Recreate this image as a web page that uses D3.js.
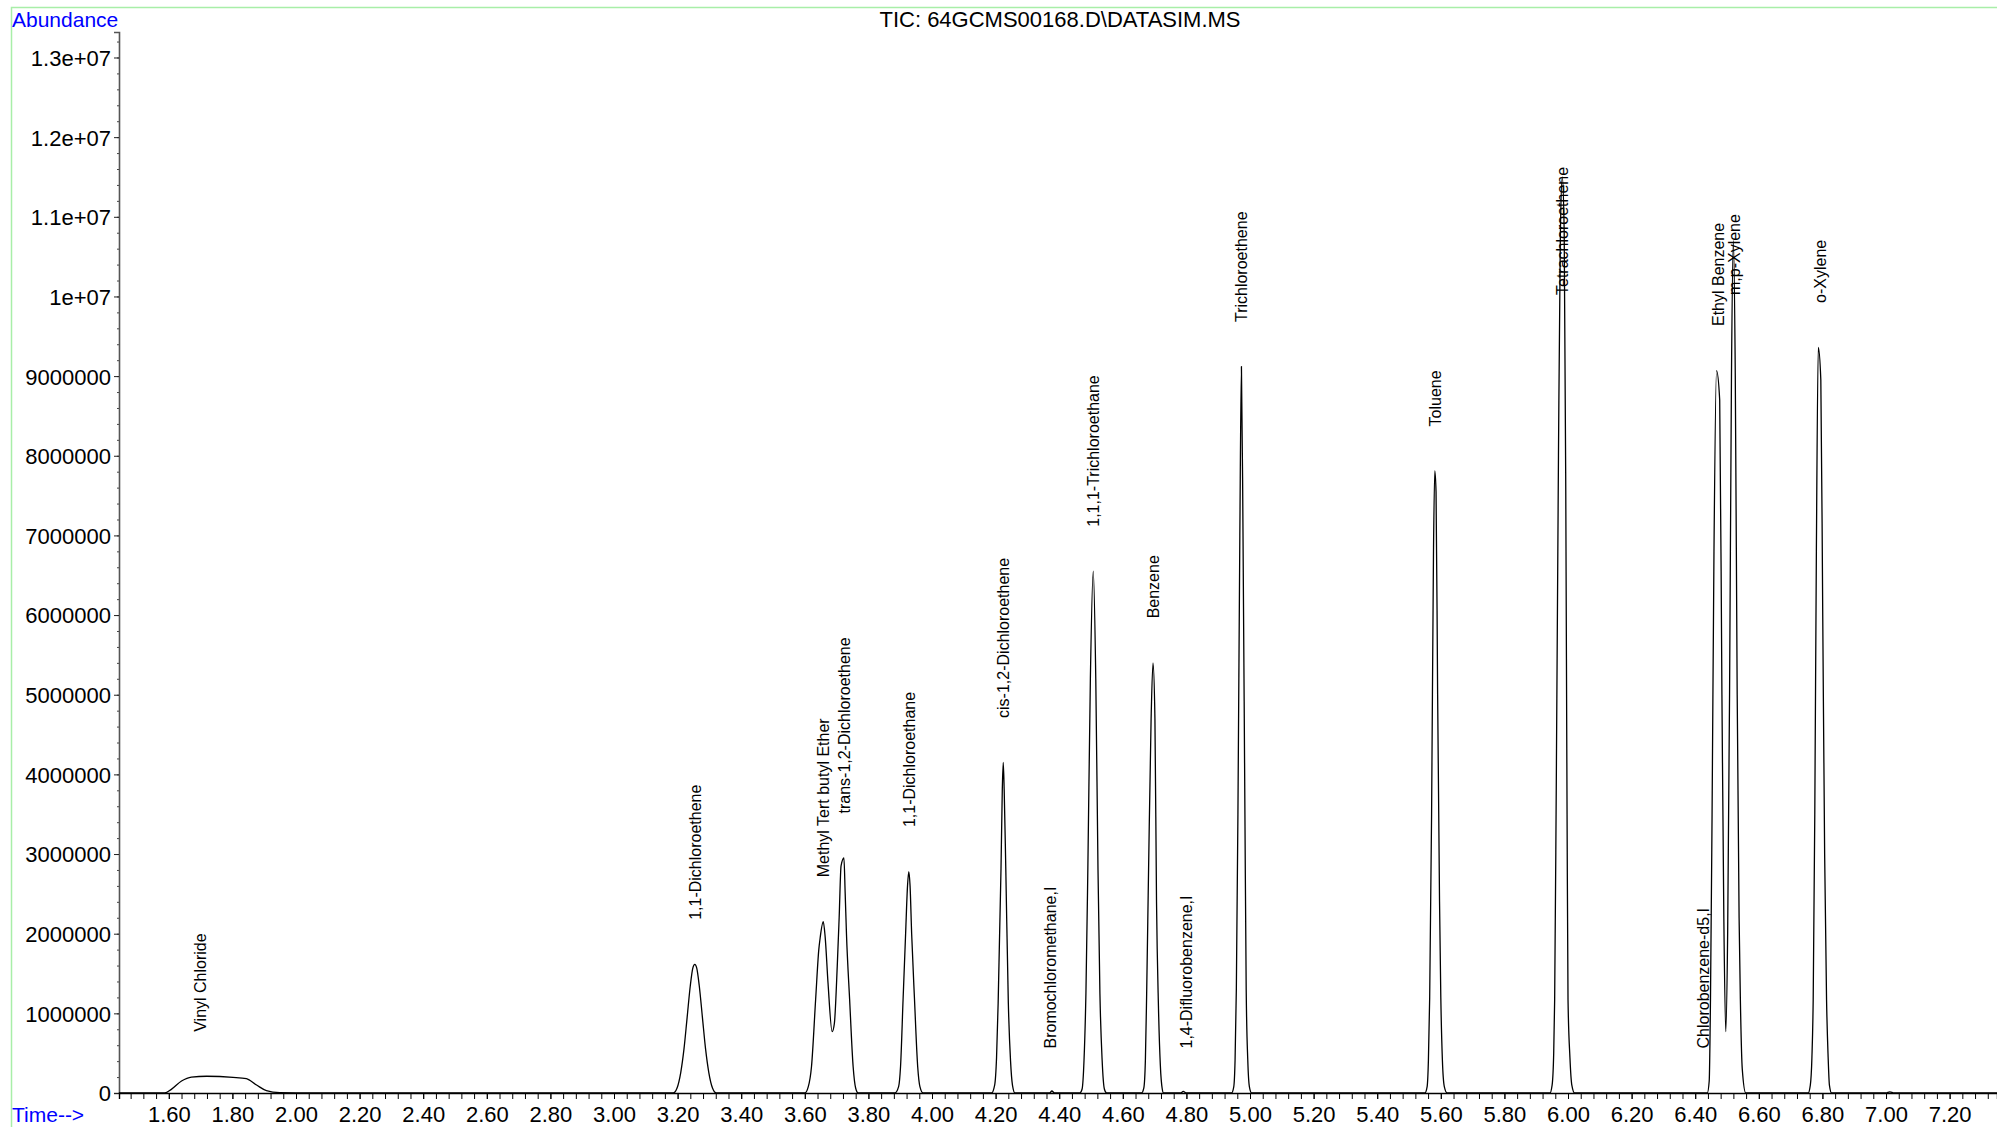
<!DOCTYPE html>
<html lang="en">
<head>
  <meta charset="UTF-8">
  <title>TIC: 64GCMS00168.D\DATASIM.MS</title>
  <script src="https://d3js.org/d3.v7.min.js"></script>
  <style>
    body { margin: 0; background: #fff; }
    text { font-family: Arial, "Liberation Sans", sans-serif; }
  </style>
</head>
<body>
<script>
  // Trace: [retention time (min), abundance (millions)]
  const tracePoints = [
    [1.443, 0], [1.587, 0], [1.608, 0.046], [1.640, 0.15], [1.671, 0.20], [1.719, 0.21],
    [1.802, 0.197], [1.844, 0.18], [1.876, 0.10], [1.907, 0.03], [1.949, 0.005], [2.05, 0],
    // 1,1-Dichloroethene
    [3.186, 0], [3.198, 0.06], [3.210, 0.26], [3.220, 0.55], [3.230, 0.95], [3.240, 1.35],
    [3.248, 1.57], [3.254, 1.615], [3.260, 1.57], [3.268, 1.35], [3.278, 0.95], [3.288, 0.55],
    [3.298, 0.26], [3.310, 0.06], [3.322, 0],
    // MTBE + trans-1,2-Dichloroethene
    [3.600, 0], [3.611, 0.08], [3.621, 0.33], [3.634, 1.17], [3.644, 1.80], [3.648, 1.94],
    [3.658, 2.15], [3.664, 1.96], [3.673, 1.38], [3.686, 0.77], [3.693, 0.875], [3.702, 1.59],
    [3.708, 2.2], [3.714, 2.85], [3.723, 2.95], [3.727, 2.5], [3.731, 2.0], [3.741, 1.17],
    [3.752, 0.33], [3.760, 0.06], [3.768, 0],
    // 1,1-Dichloroethane
    [3.883, 0], [3.895, 0.08], [3.901, 0.33], [3.909, 1.17], [3.917, 2.0], [3.923, 2.6],
    [3.927, 2.78], [3.931, 2.6], [3.936, 2.0], [3.945, 1.17], [3.955, 0.33], [3.962, 0.08], [3.972, 0],
    // cis-1,2-Dichloroethene
    [4.187, 0], [4.197, 0.1], [4.203, 0.45], [4.208, 1.13], [4.217, 2.82], [4.221, 3.8],
    [4.224, 4.15], [4.227, 3.8], [4.232, 2.82], [4.240, 1.13], [4.247, 0.4], [4.253, 0.1], [4.261, 0],
    [4.370, 0], [4.377, 0.025], [4.385, 0],
    // 1,1,1-Trichloroethane
    [4.465, 0], [4.472, 0.05], [4.478, 0.41], [4.484, 1.25], [4.490, 2.8], [4.498, 5.2],
    [4.507, 6.55], [4.515, 5.2], [4.522, 2.8], [4.528, 1.25], [4.535, 0.41], [4.542, 0.05], [4.549, 0],
    // Benzene
    [4.659, 0], [4.666, 0.06], [4.671, 0.41], [4.675, 1.25], [4.681, 2.8], [4.689, 4.7],
    [4.695, 5.40], [4.701, 4.7], [4.706, 2.4], [4.712, 1.1], [4.718, 0.35], [4.724, 0.05], [4.728, 0],
    [4.782, 0], [4.790, 0.02], [4.800, 0],
    // Trichloroethene
    [4.942, 0], [4.949, 0.08], [4.953, 0.41], [4.957, 1.3], [4.962, 3.5], [4.968, 7.0],
    [4.973, 9.12], [4.978, 7.0], [4.984, 3.5], [4.988, 1.3], [4.993, 0.41], [4.998, 0.08], [5.005, 0],
    // Toluene
    [5.550, 0], [5.557, 0.08], [5.561, 0.41], [5.565, 1.2], [5.571, 3.5], [5.577, 6.8],
    [5.581, 7.81], [5.585, 7.55], [5.590, 5.0], [5.596, 2.4], [5.600, 1.2], [5.605, 0.41],
    [5.611, 0.08], [5.620, 0],
    // Tetrachloroethene
    [5.943, 0], [5.950, 0.1], [5.955, 0.5], [5.958, 1.17], [5.963, 3.8], [5.970, 8.0],
    [5.976, 10.8], [5.982, 11.5], [5.988, 10.8], [5.993, 7.5], [5.997, 3.5], [6.000, 1.17],
    [6.006, 0.45], [6.012, 0.1], [6.021, 0],
    // Ethyl Benzene + m,p-Xylene
    [6.438, 0], [6.444, 0.15], [6.448, 1.17], [6.453, 3.5], [6.459, 6.8], [6.467, 9.07],
    [6.477, 8.70], [6.484, 5.0], [6.490, 2.2], [6.496, 0.77], [6.502, 2.0], [6.508, 5.0],
    [6.514, 9.0], [6.520, 10.7], [6.526, 9.0], [6.532, 5.0], [6.538, 2.2], [6.542, 1.17],
    [6.548, 0.3], [6.559, 0],
    // o-Xylene
    [6.755, 0], [6.762, 0.1], [6.767, 0.45], [6.771, 1.17], [6.776, 3.5], [6.781, 6.8],
    [6.787, 9.36], [6.795, 8.95], [6.801, 6.0], [6.807, 3.0], [6.813, 1.17], [6.818, 0.45],
    [6.822, 0.1], [6.829, 0],
    [7.000, 0], [7.012, 0.015], [7.025, 0], [7.349, 0]
  ];

  // Peak labels: name, retention time, apex height (millions)
  const peakNames = [
    "Vinyl Chloride", "1,1-Dichloroethene", "Methyl Tert butyl Ether", "trans-1,2-Dichloroethene",
    "1,1-Dichloroethane", "cis-1,2-Dichloroethene", "Bromochloromethane,I", "1,1,1-Trichloroethane",
    "Benzene", "1,4-Difluorobenzene,I", "Trichloroethene", "Toluene", "Tetrachloroethene",
    "Chlorobenzene-d5,I", "Ethyl Benzene", "m,p-Xylene", "o-Xylene"
  ];
  const peakTimes = [1.70, 3.254, 3.658, 3.724, 3.927, 4.224, 4.372, 4.507, 4.695, 4.801,
    4.973, 5.581, 5.983, 6.425, 6.471, 6.524, 6.793];
  const peakHeights = [0.21, 1.615, 2.15, 2.95, 2.78, 4.15, 0, 6.55, 5.40, 0,
    9.12, 7.81, 11.5, 0, 9.07, 10.7, 9.36];

  // Axis ticks
  const yTickValues = [0, 1, 2, 3, 4, 5, 6, 7, 8, 9, 10, 11, 12, 13];
  const yTickLabels = ["0", "1000000", "2000000", "3000000", "4000000", "5000000", "6000000",
    "7000000", "8000000", "9000000", "1e+07", "1.1e+07", "1.2e+07", "1.3e+07"];
  const xTickValues = [1.6, 1.8, 2.0, 2.2, 2.4, 2.6, 2.8, 3.0, 3.2, 3.4, 3.6, 3.8, 4.0, 4.2,
    4.4, 4.6, 4.8, 5.0, 5.2, 5.4, 5.6, 5.8, 6.0, 6.2, 6.4, 6.6, 6.8, 7.0, 7.2];

  const width = 1997;
  const height = 1127;

  const svg = d3.select("body")
    .append("svg")
    .attr("width", width)
    .attr("height", height);

  // frame
  svg.append("path")
    .attr("d", "M11.5," + height + " L11.5,7.5 L" + width + ",7.5")
    .attr("fill", "none")
    .attr("stroke", "#a8eea8")
    .attr("stroke-width", 1.5);

  const xScale = d3.scaleLinear()
    .domain([1.4434, 7.349])
    .range([119, 1997]);

  const yScale = d3.scaleLinear()
    .domain([0, 13.32])
    .range([1093, 32]);

  // y axis
  const yMinor = d3.range(0, 13.21, 0.2);
  svg.append("g")
    .attr("transform", "translate(119,0)")
    .call(d3.axisLeft(yScale).tickValues(yMinor).tickSize(2).tickFormat(""))
    .call(g => g.select(".domain").remove())
    .call(g => g.selectAll("line").attr("stroke", "#444"));

  const yAxis = svg.append("g")
    .attr("transform", "translate(119,0)")
    .call(d3.axisLeft(yScale).tickValues(yTickValues).tickSize(5).tickPadding(3)
      .tickFormat((d, i) => yTickLabels[i]));
  yAxis.select(".domain").attr("stroke", "#555").attr("stroke-width", 1.6);
  yAxis.selectAll("line").attr("stroke", "#222");
  yAxis.selectAll("text")
    .attr("font-size", 22)
    .attr("fill", "#000")
    .attr("dy", "0.36em");

  // x axis
  const xMinor = d3.range(1.48, 7.33, 0.04);
  svg.append("g")
    .attr("transform", "translate(0,1093)")
    .call(d3.axisBottom(xScale).tickValues(xMinor).tickSize(6).tickFormat(""))
    .call(g => g.select(".domain").attr("stroke", "#000").attr("stroke-width", 1.4))
    .call(g => g.selectAll("line").attr("stroke", "#000"));

  const xAxis = svg.append("g")
    .attr("transform", "translate(0,1093)")
    .call(d3.axisBottom(xScale).tickValues(xTickValues).tickSize(6).tickPadding(4)
      .tickFormat(d => d.toFixed(2)));
  xAxis.select(".domain").remove();
  xAxis.selectAll("line").attr("stroke", "#000");
  xAxis.selectAll("text")
    .attr("font-size", 22)
    .attr("fill", "#000")
    .attr("y", 0)
    .attr("dy", 0)
    .attr("transform", "translate(0,29)");

  // trace
  const line = d3.line()
    .x(d => xScale(d[0]))
    .y(d => yScale(d[1]))
    .curve(d3.curveMonotoneX);

  svg.append("path")
    .datum(tracePoints)
    .attr("d", line)
    .attr("fill", "none")
    .attr("stroke", "#000")
    .attr("stroke-width", 1.3);

  // rotated peak labels
  svg.append("g")
    .selectAll("text")
    .data(peakNames)
    .join("text")
    .attr("transform", (d, i) => {
      const bottom = Math.max(yScale(peakHeights[i]) - 44.5, 295);
      return "translate(" + xScale(peakTimes[i]) + "," + bottom + ") rotate(-90)";
    })
    .attr("dy", "0.36em")
    .attr("font-size", 16)
    .attr("fill", "#000")
    .text(d => d);

  // titles
  svg.append("text")
    .attr("x", 12)
    .attr("y", 27)
    .attr("font-size", 21)
    .attr("fill", "#0000ff")
    .text("Abundance");

  svg.append("text")
    .attr("x", 12)
    .attr("y", 1122)
    .attr("font-size", 21)
    .attr("fill", "#0000ff")
    .text("Time-->");

  svg.append("text")
    .attr("x", 1060)
    .attr("y", 27)
    .attr("font-size", 22)
    .attr("text-anchor", "middle")
    .attr("fill", "#000")
    .text("TIC: 64GCMS00168.D\\DATASIM.MS");
</script>
</body>
</html>
